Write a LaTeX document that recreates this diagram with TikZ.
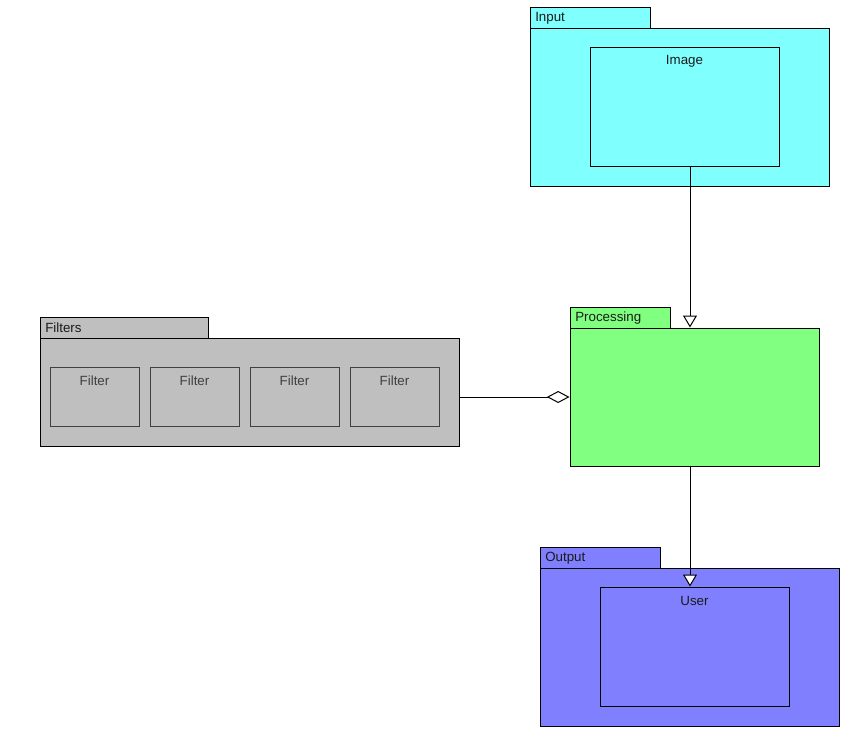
\documentclass[tikz,border=0pt]{standalone}
\usepackage{fontspec}
\setmainfont{Liberation Sans}
\usetikzlibrary{arrows.meta,fit,calc}
\definecolor{incol}{HTML}{80FFFF}
\definecolor{proccol}{HTML}{80FF80}
\definecolor{outcol}{HTML}{8080FF}
\definecolor{filtcol}{HTML}{BFBFBF}
\definecolor{txtcol}{HTML}{1A1A1A}
\definecolor{graytxt}{HTML}{404040}
\begin{document}
\begin{tikzpicture}[x=0.75pt,y=-0.75pt,
  pkg/.style={draw=black,line width=0.75pt,inner sep=0pt,rectangle},
  inner/.style={draw=black,line width=0.75pt,inner sep=0pt,rectangle},
  filt/.style={draw=graytxt,line width=0.75pt,inner sep=0pt,rectangle},
  lbl/.style={font=\fontsize{10}{12}\selectfont,text=txtcol,inner sep=0pt},
  flbl/.style={font=\fontsize{10}{12}\selectfont,text=graytxt,inner sep=0pt},
  conn/.style={draw=black,line width=0.75pt},
  gen/.style={conn,-{Triangle[open,fill=white,length=9pt,width=10.5pt]}},
  agg/.style={conn,{Diamond[open,fill=white,length=17pt,width=9pt]}-}]
\useasboundingbox (0,0) rectangle (857,754);
% Input
\node[pkg,fill=incol,fit={(530,7)(650,28)}] (intab) {};
\node[pkg,fill=incol,fit={(530,28)(829,186)}] (inbody) {};
\node[lbl,anchor=west] (inlbl) at (535,18) {Input};
\node[inner,fill=incol,fit={(590,47)(779,166)}] (img) {};
\node[lbl] (imglbl) at (684.5,61) {Image};
% Processing
\node[pkg,fill=proccol,fit={(570,307)(670,328)}] (proctab) {};
\node[pkg,fill=proccol,fit={(570,328)(819,466)}] (proc) {};
\node[lbl,anchor=west] (proclbl) at (575,318) {Processing};
% Filters
\node[pkg,fill=filtcol,fit={(40,317)(208,338)}] (filttab) {};
\node[pkg,fill=filtcol,fit={(40,338)(459,446)}] (filters) {};
\node[lbl,anchor=west] (filtlbl) at (45,328) {Filters};
\node[filt,fit={(50,367)(139,426)}] (f1) {};
\node[filt,fit={(150,367)(239,426)}] (f2) {};
\node[filt,fit={(250,367)(339,426)}] (f3) {};
\node[filt,fit={(350,367)(439,426)}] (f4) {};
\node[flbl] (f1l) at (94.5,381) {Filter};
\node[flbl] (f2l) at (194.5,381) {Filter};
\node[flbl] (f3l) at (294.5,381) {Filter};
\node[flbl] (f4l) at (394.5,381) {Filter};
% Output
\node[pkg,fill=outcol,fit={(540,547)(660,568)}] (outtab) {};
\node[pkg,fill=outcol,fit={(540,568)(839,726)}] (outbody) {};
\node[lbl,anchor=west] (outlbl) at (545,558) {Output};
\node[inner,fill=outcol,fit={(600,587)(789,706)}] (user) {};
\node[lbl] (userlbl) at (694.5,601) {User};
% connectors
\coordinate (cx) at (690,0);
\draw[gen] (img.south -| cx) -- (proc.north -| cx);
\draw[gen] (proc.south -| cx) -- (user.north -| cx);
\coordinate (cy) at (0,397);
\draw[agg] (proc.west |- cy) -- (filters.east |- cy);
\end{tikzpicture}
\end{document}
